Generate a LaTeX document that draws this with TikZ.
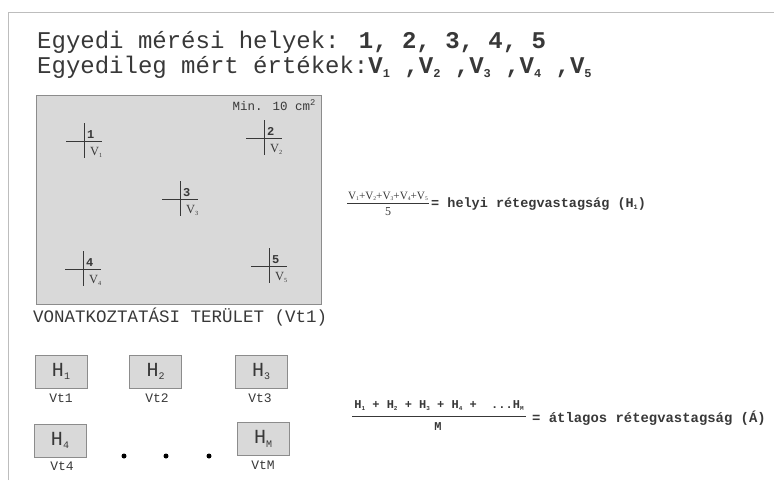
\documentclass[tikz,border=0pt]{standalone}
\usepackage{fontspec}
\usepackage{graphicx}
\setmainfont{Liberation Serif}
\newfontfamily\monof{Liberation Mono}
\newfontfamily\seriff{Liberation Serif}
\newcommand\sub[1]{\raisebox{-0.35ex}{\scalebox{0.5}{#1}}}
\newcommand\fsz[1]{\fontsize{#1}{#1}\selectfont}
\definecolor{txt}{HTML}{383838}
\definecolor{boxfill}{HTML}{D9D9D9}
\definecolor{boxline}{HTML}{8C8C8C}
\definecolor{framec}{HTML}{BDBDBD}
\newcommand\meas[4]{%
  \coordinate (#1) at #2;
  \draw[crossline] ([yshift=18]#1) -- ([yshift=-17]#1);
  \draw[crossline] ([xshift=-18]#1) -- ([xshift=18]#1);
  \node[numlab] (#1n) at ([xshift=3,yshift=3]#1) {#3};
  \node[vlab] (#1v) at ([xshift=6,yshift=-14]#1) {V\sub{#4}};
}
\begin{document}
\begin{tikzpicture}[x=1pt,y=-1pt,
  txtnode/.style={inner sep=0pt, anchor=base west, text=txt},
  crossline/.style={draw=txt, line width=0.8pt},
  numlab/.style={inner sep=0pt, anchor=base west, text=txt, font=\monof\bfseries\fsz{12}},
  vlab/.style={inner sep=0pt, anchor=base west, text=txt, font=\seriff\fsz{12.5}},
  hbox/.style={draw=boxline, fill=boxfill, line width=0.8pt, minimum width=52pt, minimum height=33pt, inner sep=0pt, font=\monof\fsz{20}, text=txt},
  vtlab/.style={inner sep=0pt, anchor=base, font=\monof\fsz{13}, text=txt},
  dotn/.style={circle, fill=black, inner sep=0pt, minimum size=5pt},
  fracline/.style={draw=txt, line width=0.7pt}
]
\useasboundingbox (0,0) rectangle (774,480);
% frame
\draw[framec, line width=1pt] (8,480) -- (8,12) -- (774,12);
% title
\node[txtnode, font=\monof\fsz{24}] (t1) at (37,48) {Egyedi mérési helyek: \textbf{1, 2, 3, 4, 5}};
\node[txtnode, font=\monof\fsz{24}] (t2) at (37,73) {Egyedileg mért értékek:\textbf{V\sub{1} ,V\sub{2} ,V\sub{3} ,V\sub{4} ,V\sub{5}}};
% area
\node[draw=boxline, fill=boxfill, line width=0.9pt, minimum width=285pt, minimum height=209pt, inner sep=0pt] (area) at (179,199.5) {};
\node[inner sep=0pt, anchor=base east, text=txt, font=\monof\fsz{12.5}] (min) at (316,110) {Min. 10 cm\textsuperscript{2}};
\meas{p1}{(84,141)}{1}{1}
\meas{p2}{(264,138)}{2}{2}
\meas{p3}{(180,199)}{3}{3}
\meas{p4}{(83,269)}{4}{4}
\meas{p5}{(269,266)}{5}{5}
\node[txtnode, font=\monof\fsz{17.5}] (ref) at (33,322) {VONATKOZTATÁSI TERÜLET (Vt1)};
% formula 1
\node[inner sep=0pt, anchor=base, text=txt, font=\seriff\fsz{11.2}] (num1) at (388,199) {V\sub{1}+V\sub{2}+V\sub{3}+V\sub{4}+V\sub{5}};
\coordinate (f1a) at (347,203);
\coordinate (f1b) at (429,203);
\draw[fracline] (f1a) -- (f1b);
\node[inner sep=0pt, anchor=base, text=txt, font=\seriff\fsz{12}] (den1) at (388,215) {5};
\node[txtnode, font=\monof\bfseries\fsz{13.5}] (res1) at (431,207) {= helyi rétegvastagság (H\sub{1})};
% H boxes
\node[hbox] (h1) at (61,371.5) {H\sub{1}};
\node[hbox] (h2) at (155.5,371.5) {H\sub{2}};
\node[hbox] (h3) at (261,371.5) {H\sub{3}};
\node[hbox] (h4) at (60,440.5) {H\sub{4}};
\node[hbox] (hm) at (263,439) {H\sub{M}};
\node[vtlab] (v1) at (61,402) {Vt1};
\node[vtlab] (v2) at (157,402) {Vt2};
\node[vtlab] (v3) at (260,402) {Vt3};
\node[vtlab] (v4) at (62,470) {Vt4};
\node[vtlab] (vm) at (263,469) {VtM};
\node[dotn] (d1) at (124,456) {};
\node[dotn] (d2) at (166,456) {};
\node[dotn] (d3) at (209,456) {};
% formula 2
\node[inner sep=0pt, anchor=base, text=txt, font=\monof\bfseries\fsz{12}] (num2) at (439,408) {H\sub{1} + H\sub{2} + H\sub{3} + H\sub{4} + \ ...H\sub{M}};
\coordinate (f2a) at (352,416);
\coordinate (f2b) at (526,416);
\draw[fracline] (f2a) -- (f2b);
\node[inner sep=0pt, anchor=base, text=txt, font=\monof\bfseries\fsz{12}] (den2) at (438,430) {M};
\node[txtnode, font=\monof\bfseries\fsz{13.9}] (res2) at (532,422) {= átlagos rétegvastagság (Á)};
\end{tikzpicture}
\end{document}
